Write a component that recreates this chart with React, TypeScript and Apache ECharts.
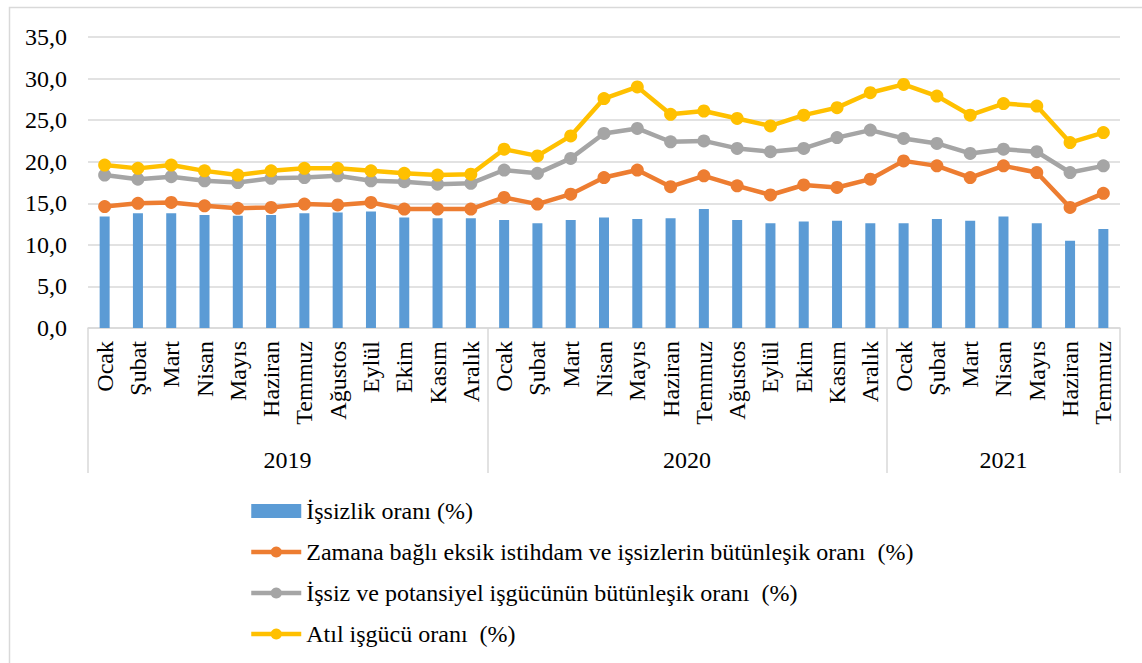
import React, { useEffect, useRef } from "react";
import * as echarts from "echarts";

const months = [
  "Ocak", "Şubat", "Mart", "Nisan", "Mayıs", "Haziran", "Temmuz", "Ağustos", "Eylül", "Ekim", "Kasım", "Aralık",
  "Ocak", "Şubat", "Mart", "Nisan", "Mayıs", "Haziran", "Temmuz", "Ağustos", "Eylül", "Ekim", "Kasım", "Aralık",
  "Ocak", "Şubat", "Mart", "Nisan", "Mayıs", "Haziran", "Temmuz",
];
const years = ["2019", "2020", "2021"];
const groupSizes = [12, 12, 7];

const issizlik = [
  13.4, 13.8, 13.8, 13.6, 13.5, 13.6, 13.8, 13.9, 14.0, 13.3, 13.2, 13.2,
  13.0, 12.6, 13.0, 13.3, 13.1, 13.2, 14.3, 13.0, 12.6, 12.8, 12.9, 12.6,
  12.6, 13.1, 12.9, 13.4, 12.6, 10.5, 11.9,
];
const zamanaBagli = [
  14.6, 15.0, 15.1, 14.7, 14.4, 14.5, 14.9, 14.8, 15.1, 14.3, 14.3, 14.3,
  15.7, 14.9, 16.1, 18.1, 19.0, 17.0, 18.3, 17.1, 16.0, 17.2, 16.9, 17.9,
  20.1, 19.5, 18.1, 19.5, 18.7, 14.5, 16.2,
];
const potansiyel = [
  18.4, 17.9, 18.2, 17.7, 17.5, 18.0, 18.1, 18.3, 17.7, 17.6, 17.3, 17.4,
  19.0, 18.6, 20.4, 23.4, 24.0, 22.4, 22.5, 21.6, 21.2, 21.6, 22.9, 23.8,
  22.8, 22.2, 21.0, 21.5, 21.2, 18.7, 19.5,
];
const atil = [
  19.6, 19.2, 19.6, 18.9, 18.4, 18.9, 19.2, 19.2, 18.9, 18.6, 18.4, 18.5,
  21.5, 20.7, 23.1, 27.6, 29.0, 25.7, 26.1, 25.2, 24.3, 25.6, 26.5, 28.3,
  29.3, 27.9, 25.6, 27.0, 26.7, 22.3, 23.5,
];
const seriesNames = [
  "İşsizlik oranı (%)",
  "Zamana bağlı eksik istihdam ve işsizlerin bütünleşik oranı  (%)",
  "İşsiz ve potansiyel işgücünün bütünleşik oranı  (%)",
  "Atıl işgücü oranı  (%)",
];
const yTicks = { min: 0, max: 35, interval: 5 };

const FONT = "Liberation Serif";
const FS = 24;

export default function App() {
  const ref = useRef<HTMLDivElement>(null);
  useEffect(() => {
    if (!ref.current) return;
    const chart = echarts.init(ref.current, undefined, { renderer: "svg" });

    const catYears: string[] = [];
    const boundaries: number[] = [];
    const labelIdx: Record<number, { year: string; shift: boolean }> = {};
    let start = 0;
    groupSizes.forEach((n, g) => {
      boundaries.push(start);
      for (let i = 0; i < n; i++) catYears.push(years[g]);
      const mid = start + Math.floor((n - 1) / 2);
      labelIdx[mid] = { year: years[g], shift: n % 2 === 0 };
      start += n;
    });
    boundaries.push(start);

    const lineSeries = (name: string, data: number[], color: string) => ({
      name,
      type: "line",
      data,
      symbol: "circle",
      symbolSize: 13,
      itemStyle: { color },
      lineStyle: { color, width: 4.5 },
    });

    chart.setOption({
      animation: false,
      backgroundColor: "#fff",
      textStyle: { fontFamily: FONT },
      graphic: [
        {
          type: "rect",
          shape: { x: 9.5, y: 7.5, width: 1160, height: 700 },
          style: { fill: "none", stroke: "#d9d9d9", lineWidth: 1.5 },
          silent: true,
        },
      ],
      grid: { left: 88, right: 22, top: 37, bottom: 335, containLabel: false },
      legend: {
        orient: "vertical",
        left: 244,
        top: 494,
        itemGap: 17,
        itemWidth: 50,
        itemHeight: 14,
        lineStyle: { width: 4.5 },
        textStyle: { fontSize: FS, fontFamily: FONT, color: "#000" },
        data: [
          { name: seriesNames[0], icon: "rect" },
          seriesNames[1],
          seriesNames[2],
          seriesNames[3],
        ],
      },
      xAxis: [
        {
          type: "category",
          data: months,
          axisLine: { show: true, lineStyle: { color: "#d9d9d9", width: 1.5 } },
          axisTick: { show: false },
          axisLabel: {
            rotate: 90,
            interval: 0,
            margin: 13,
            fontSize: FS,
            fontFamily: FONT,
            color: "#000",
          },
        },
        {
          type: "category",
          data: catYears,
          position: "bottom",
          axisLine: { show: false },
          axisTick: {
            show: true,
            length: 145,
            interval: (i: number) => boundaries.indexOf(i) >= 0,
            lineStyle: { color: "#d9d9d9", width: 1.5 },
          },
          axisLabel: {
            interval: (i: number) => labelIdx[i] !== undefined,
            margin: 120,
            fontSize: FS,
            fontFamily: FONT,
            color: "#000",
            formatter: (v: string, i: number) =>
              labelIdx[i] && labelIdx[i].shift ? "{a|" + v + "}" : "{b|" + v + "}",
            rich: {
              a: { padding: [0, 0, 0, 33], fontSize: FS, fontFamily: FONT, color: "#000" },
              b: { fontSize: FS, fontFamily: FONT, color: "#000" },
            },
          },
          splitLine: { show: false },
        },
      ],
      yAxis: {
        type: "value",
        min: yTicks.min,
        max: yTicks.max,
        interval: yTicks.interval,
        axisLine: { show: false },
        axisTick: { show: false },
        axisLabel: {
          margin: 21,
          fontSize: FS,
          fontFamily: FONT,
          color: "#000",
          formatter: (v: number) => v.toFixed(1).replace(".", ","),
        },
        splitLine: { lineStyle: { color: "#d9d9d9", width: 1.5 } },
      },
      series: [
        {
          name: seriesNames[0],
          type: "bar",
          data: issizlik,
          barWidth: 10,
          itemStyle: { color: "#5b9bd5" },
        },
        lineSeries(seriesNames[1], zamanaBagli, "#ed7d31"),
        lineSeries(seriesNames[2], potansiyel, "#a5a5a5"),
        lineSeries(seriesNames[3], atil, "#ffc000"),
      ],
    });
    return () => chart.dispose();
  }, []);
  return <div ref={ref} style={{ width: 1142, height: 663, position: "absolute", left: 0, top: 0 }} />;
}
